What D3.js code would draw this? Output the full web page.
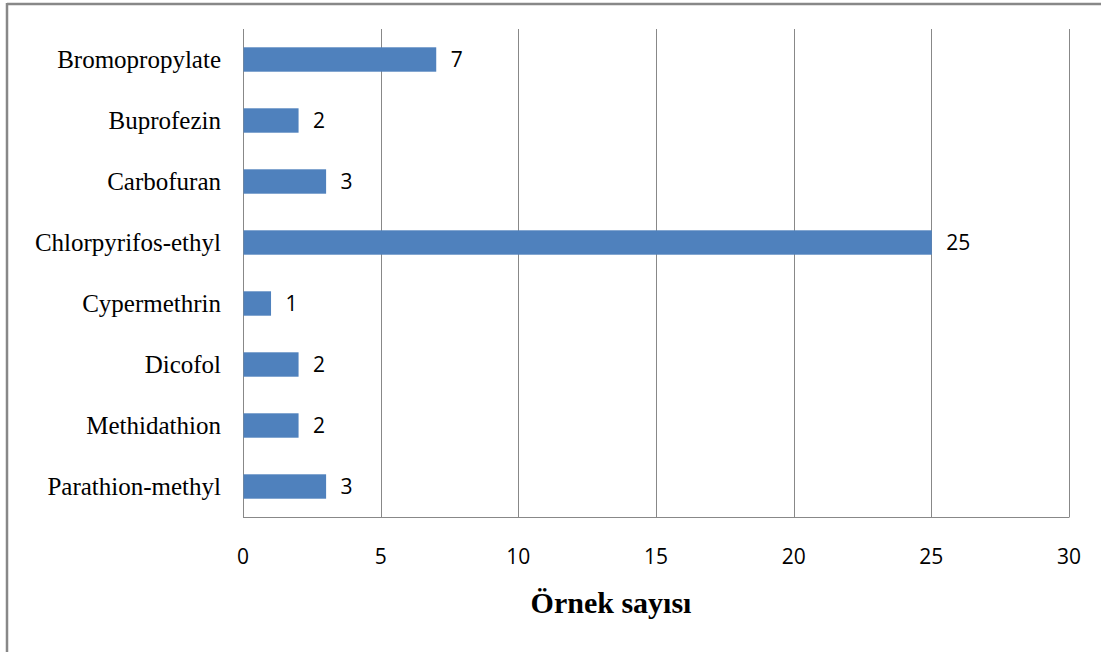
<!DOCTYPE html>
<html><head><meta charset="utf-8">
<script src="https://cdn.jsdelivr.net/npm/d3@7"></script>
<style>body{margin:0;background:#fff;} svg{display:block;}</style>
</head><body>
<svg id="c" width="1101" height="652"></svg>
<script>
const categories = ["Bromopropylate","Buprofezin","Carbofuran","Chlorpyrifos-ethyl","Cypermethrin","Dicofol","Methidathion","Parathion-methyl"];
const values = [7,2,3,25,1,2,2,3];
const xTicks = [0,5,10,15,20,25,30];
const axisTitle = "Örnek sayısı";

const svg = d3.select("#c");
const pLeft = 243, pRight = 1069, pTop = 29, pBottom = 517;

// outer frame
svg.append("line").attr("x1",7).attr("x2",1101).attr("y1",4).attr("y2",4).attr("stroke","#888").attr("stroke-width",2.5);
svg.append("line").attr("x1",7).attr("x2",7).attr("y1",3).attr("y2",652).attr("stroke","#888").attr("stroke-width",2.5);

const x = d3.scaleLinear().domain([0,30]).range([pLeft,pRight]);
const y = d3.scaleBand().domain(categories).range([pTop,pBottom]).paddingInner(0.6).paddingOuter(0.3);

// gridlines
svg.append("g").selectAll("line").data(xTicks).join("line")
  .attr("x1",d=>Math.round(x(d))+0.5).attr("x2",d=>Math.round(x(d))+0.5)
  .attr("y1",pTop).attr("y2",pBottom)
  .attr("stroke","#888").attr("stroke-width",1);
// bottom axis line
svg.append("line").attr("x1",pLeft).attr("x2",pRight+0.5).attr("y1",pBottom+0.5).attr("y2",pBottom+0.5).attr("stroke","#888");

// bars
svg.append("g").selectAll("rect").data(values).join("rect")
  .attr("x",x(0)+0.5).attr("y",(d,i)=>y(categories[i]))
  .attr("width",d=>x(d)-x(0)).attr("height",y.bandwidth())
  .attr("fill","#4f81bd");

// value labels
svg.append("g").selectAll("text").data(values).join("text")
  .attr("x",d=>x(d)+15).attr("y",(d,i)=>y(categories[i])+y.bandwidth()/2)
  .attr("dy","0.36em").attr("font-family","'Open Sans', 'DejaVu Sans', sans-serif").attr("font-size",21)
  .attr("fill","#000").text(d=>d);

// category labels
svg.append("g").selectAll("text").data(categories).join("text")
  .attr("x",221).attr("y",d=>y(d)+y.bandwidth()/2).attr("dy","0.33em")
  .attr("text-anchor","end").attr("font-family","'Liberation Serif', serif").attr("font-size",25)
  .attr("fill","#000").text(d=>d);

// tick labels
svg.append("g").selectAll("text").data(xTicks).join("text")
  .attr("x",d=>x(d)).attr("y",564).attr("text-anchor","middle")
  .attr("font-family","'Open Sans', 'DejaVu Sans', sans-serif").attr("font-size",21)
  .attr("fill","#000").text(d=>d);

// axis title
svg.append("text").attr("x",611).attr("y",613).attr("text-anchor","middle")
  .attr("font-family","'Liberation Serif', serif").attr("font-weight","bold").attr("font-size",30)
  .attr("fill","#000").text(axisTitle);
</script>
</body></html>
